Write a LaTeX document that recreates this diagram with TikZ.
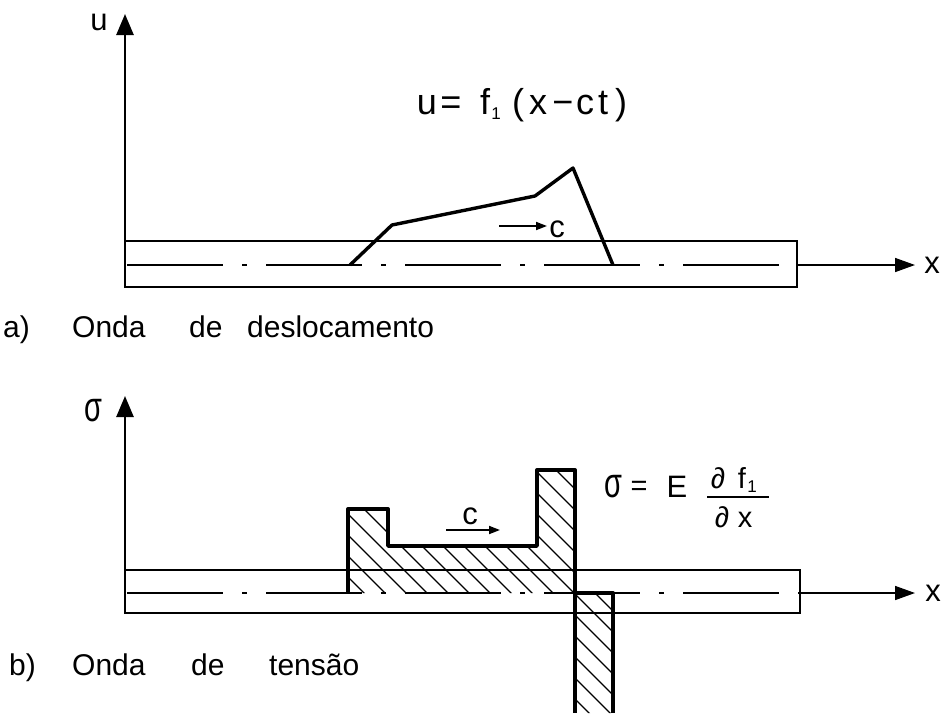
\documentclass[tikz,border=0pt]{standalone}
\usepackage{graphicx}
\usepackage{fontspec}
\setmainfont{Liberation Sans}
\usetikzlibrary{arrows.meta}
\begin{document}
\begin{tikzpicture}[x=1pt,y=-1pt,
  txt/.style={font=\fontsize{30}{32}\selectfont, inner sep=0pt, anchor=base west},
  lab/.style={font=\fontsize{31}{33}\selectfont, inner sep=0pt, anchor=base},
  big/.style={font=\fontsize{36}{38}\selectfont, inner sep=0pt, anchor=base},
  mid/.style={font=\fontsize{29}{31}\selectfont, inner sep=0pt, anchor=base},
  sub/.style={font=\fontsize{17}{17}\selectfont, inner sep=0pt, anchor=base},
  axis/.style={line width=2.6pt, -{Triangle[length=21pt,width=17pt]}},
  xaxis/.style={line width=1.6pt, -{Triangle[length=20pt,width=14pt]}},
  bar/.style={line width=2.4pt},
  cline/.style={line width=1.6pt, dash pattern=on 96pt off 19pt on 5pt off 19pt},
  wave/.style={line width=3.4pt, line join=round},
  carrow/.style={line width=1.8pt, -{Triangle[length=11pt,width=8pt]}},
  hatch/.style={line width=1.4pt}]
\useasboundingbox (0,0) rectangle (946,713);

% ---------- part a ----------
\coordinate (ua0) at (125,242);
\coordinate (ua1) at (125,14);
\draw[axis] (ua0) -- (ua1);
\node[lab] (ulab) at (99,30) {u};

\draw[bar] (125,241) rectangle (797,287);
\coordinate (ca0) at (127,265);
\coordinate (ca1) at (797,265);
\coordinate (xa1) at (915,265);
\draw[cline] (ca0) -- (ca1);
\draw[xaxis] (ca1) -- (xa1);
\node[lab] (xla) at (932,273) {x};

\draw[wave] (350,265) -- (392,225) -- (535,196) -- (573,168) -- (613,265);
\coordinate (cA0) at (499,226);
\coordinate (cA1) at (547,226);
\draw[carrow] (cA0) -- (cA1);
\node[lab] (cla) at (557,237) {c};

% u = f1 (x - ct)
\node[big] (e1) at (427,114) {u};
\node[big] (e2) at (451,114) {=};
\node[big] (e3) at (485,114) {f};
\node[sub] (e4) at (496,119) {1};
\node[big] (e5) at (518,114) {(};
\node[big] (e6) at (538,114) {x};
\node[big] (e7) at (563,114) {−};
\node[big] (e8) at (585,114) {c};
\node[big] (e9) at (603,114) {t};
\node[big] (e10) at (621,114) {)};

\node[txt] (a1) at (3,337) {a)};
\node[txt] (a2) at (72,337) {Onda};
\node[txt] (a3) at (189,337) {de};
\node[txt] (a4) at (247,337) {deslocamento};

% ---------- part b ----------
\coordinate (sb0) at (125,570);
\coordinate (sb1) at (125,396);
\draw[axis] (sb0) -- (sb1);
\node[mid] (slab) at (93,421) {\scalebox{1}[1.45]{σ}};

\draw[bar] (125,570) rectangle (800,613);
\coordinate (cb0) at (127,593);
\coordinate (cb1) at (800,593);
\coordinate (xb1) at (915,593);
\draw[cline] (cb0) -- (cb1);
\draw[xaxis] (cb1) -- (xb1);
\node[lab] (xlb) at (933,601) {x};

% hatching
\begin{scope}
  \clip (348,593) -- (348,509) -- (388,509) -- (388,546) -- (537,546) -- (537,470)
        -- (575,470) -- (575,593) -- cycle
        (575,593) rectangle (613,713);
  \foreach \a in {-60,-39,...,660}
    \draw[hatch] (\a,400) -- (\a+330,730);
\end{scope}
\draw[wave] (348,593) -- (348,509) -- (388,509) -- (388,546) -- (537,546) -- (537,470)
        -- (575,470) -- (575,713);
\draw[wave] (575,593) -- (613,593) -- (613,713);

\coordinate (cB0) at (446,530);
\coordinate (cB1) at (500,530);
\draw[carrow] (cB0) -- (cB1);
\node[lab] (clb) at (470,524) {c};

% sigma = E df1/dx
\node[mid] (sg) at (613,497) {\scalebox{1}[1.45]{σ}};
\node[mid] (eq) at (639,495) {=};
\node[mid,font=\fontsize{31}{33}\selectfont] (EE) at (677,497) {E};
\node[mid] (n1) at (718,488) {∂};
\node[mid] (n2) at (742,488) {f};
\node[sub] (n3) at (752,492) {1};
\coordinate (fb0) at (707,497);
\coordinate (fb1) at (769,497);
\draw[line width=1.6pt] (fb0) -- (fb1);
\node[mid] (d1) at (722,527) {∂};
\node[mid] (d2) at (745,527) {x};

\node[txt] (b1) at (9,675) {b)};
\node[txt] (b2) at (72,675) {Onda};
\node[txt] (b3) at (191,675) {de};
\node[txt] (b4) at (269,675) {tensão};
\end{tikzpicture}
\end{document}
